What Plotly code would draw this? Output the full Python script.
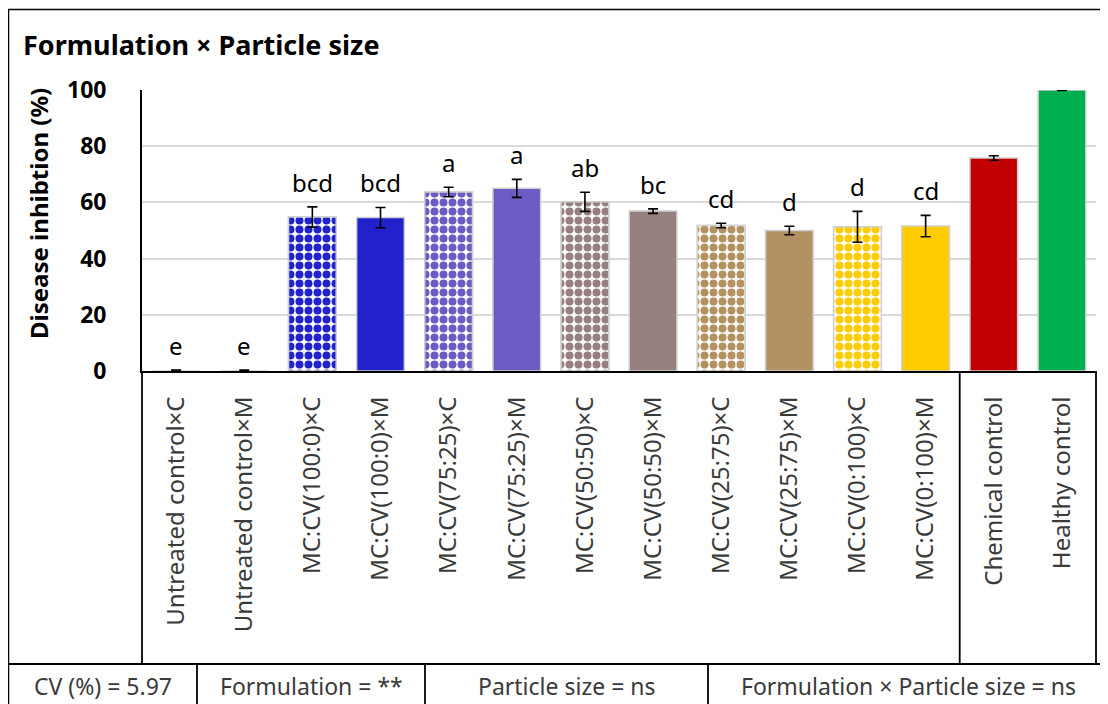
import plotly.graph_objects as go

categories = ["Untreated control×C", "Untreated control×M",
              "MC:CV(100:0)×C", "MC:CV(100:0)×M",
              "MC:CV(75:25)×C", "MC:CV(75:25)×M",
              "MC:CV(50:50)×C", "MC:CV(50:50)×M",
              "MC:CV(25:75)×C", "MC:CV(25:75)×M",
              "MC:CV(0:100)×C", "MC:CV(0:100)×M",
              "Chemical control", "Healthy control"]
values = [0, 0, 54.8, 54.6, 63.7, 65.0, 60.2, 56.9, 51.8, 50.0, 51.3, 51.6, 75.8, 100]
errors = [0.3, 0.3, 3.6, 3.6, 1.7, 3.2, 3.4, 0.8, 0.8, 1.5, 5.5, 3.8, 0.8, 0.2]
letters = ["e", "e", "bcd", "bcd", "a", "a", "ab", "bc", "cd", "d", "d", "cd", "", ""]
colors = ["#FFFFFF", "#FFFFFF", "#2222CC", "#2222CC", "#6A5CC2", "#6A5CC2",
          "#978180", "#978180", "#B39262", "#B39262", "#FFCC00", "#FFCC00",
          "#C00000", "#00B050"]
patterned = [False, False, True, False, True, False, True, False, True, False, True, False, False, False]
stats_text = ["CV (%) = 5.97", "Formulation = **", "Particle size = ns",
              "Formulation × Particle size = ns"]

FONT = "Noto Sans"

# the page has an 8px body margin; figure is sized to fill the rest of the window
W, H = 1100, 696
PL, PR, PT, PB = 142, 1096, 90, 371   # plot area in window pixels
L, R, T, B = PL - 8, (W + 8) - PR, PT - 8, (H + 8) - PB
pw, ph = PR - PL, PB - PT


def px_x(p):
    return (p - PL) / pw


def px_y(p):
    return (PB - p) / ph


BAR_W = 0.7
OUTLINE = dict(color="#D0D0D0", width=1.5)

fig = go.Figure()
# solid bars (patterned ones get a white base)
fig.add_trace(go.Bar(
    x=categories, y=values,
    marker=dict(color=["#FFFFFF" if p else c for c, p in zip(colors, patterned)],
                line=OUTLINE),
    width=BAR_W, showlegend=False, hoverinfo="skip",
))
# checker-like patterned bars (×C formulations)
for c, v, col, p in zip(categories, values, colors, patterned):
    if p:
        fig.add_trace(go.Bar(
            x=[c], y=[v], width=BAR_W, showlegend=False,
            marker=dict(color="#FFFFFF", line=OUTLINE,
                        pattern=dict(shape=".", fgcolor=col, bgcolor="#FFFFFF",
                                     fgopacity=1, fillmode="overlay",
                                     size=9, solidity=0.62)),
        ))
# error bars on top
fig.add_trace(go.Scatter(
    x=categories, y=values, mode="markers",
    marker=dict(size=1, opacity=0),
    error_y=dict(type="data", array=errors, visible=True, color="black",
                 thickness=1.6, width=5),
    cliponaxis=False, showlegend=False, hoverinfo="skip",
))

for c, v, e, t in zip(categories, values, errors, letters):
    if t:
        fig.add_annotation(x=c, y=v + e, text=t, showarrow=False,
                           yanchor="bottom", yshift=6,
                           font=dict(family=FONT, size=24, color="black"))

# title and y-axis title
fig.add_annotation(xref="paper", yref="paper", x=px_x(21), y=px_y(44),
                   xanchor="left", yanchor="middle", showarrow=False,
                   text="<b>Formulation × Particle size</b>",
                   font=dict(family=FONT, size=27, color="black"))
fig.add_annotation(xref="paper", yref="paper", x=px_x(38), y=px_y(214),
                   xanchor="center", yanchor="middle", showarrow=False,
                   textangle=-90, text="<b>Disease inhibtion (%)</b>",
                   font=dict(family=FONT, size=24, color="black"))

# table lines below the chart
line = dict(color="black", width=1.8)
fig.add_shape(type="rect", xref="paper", yref="paper",
              x0=px_x(8.5), x1=px_x(1107), y0=px_y(720), y1=px_y(9.5),
              line=dict(color="black", width=1.5))
fig.add_shape(type="line", xref="paper", yref="paper",
              x0=0, x1=0, y0=0, y1=px_y(664), line=line)
fig.add_shape(type="line", xref="paper", yref="paper",
              x0=1, x1=1, y0=0, y1=px_y(664), line=line)
fig.add_shape(type="line", xref="x", yref="paper",
              x0=11.5, x1=11.5, y0=0, y1=px_y(664), line=line)
fig.add_shape(type="line", xref="paper", yref="paper",
              x0=px_x(8.5), x1=px_x(1107), y0=px_y(664), y1=px_y(664), line=line)
for xp in [197, 425, 708]:
    fig.add_shape(type="line", xref="paper", yref="paper",
                  x0=px_x(xp), x1=px_x(xp), y0=px_y(664), y1=px_y(720), line=line)
for (a, b), t in zip([(8, 197), (197, 425), (425, 708), (708, 1108)], stats_text):
    fig.add_annotation(xref="paper", yref="paper", x=px_x((a + b) / 2), y=px_y(686),
                       xanchor="center", yanchor="middle", showarrow=False, text=t,
                       font=dict(family=FONT, size=23, color="#3A3A3A"))

fig.update_layout(
    width=W, height=H,
    margin=dict(l=L, r=R, t=T, b=B, autoexpand=False),
    paper_bgcolor="white", plot_bgcolor="white",
    barmode="overlay",
    font=dict(family=FONT),
)
fig.update_xaxes(
    type="category", categoryorder="array", categoryarray=categories,
    range=[-0.5, len(categories) - 0.5],
    tickangle=-90, showline=True, linecolor="black", linewidth=1.8,
    ticks="", ticklabelstandoff=14, automargin=False,
    tickfont=dict(family=FONT, size=24, color="#3A3A3A"),
    showgrid=False, zeroline=False,
)
fig.update_yaxes(
    range=[0, 100], tickvals=[0, 20, 40, 60, 80, 100], showgrid=True,
    gridcolor="#D9D9D9", gridwidth=1.5, zeroline=False,
    showline=True, linecolor="black", linewidth=1.8,
    ticks="", ticklabelstandoff=29, automargin=False,
    tickfont=dict(family=FONT, size=23, color="black", weight="bold"),
)

fig.write_html("out.html")
